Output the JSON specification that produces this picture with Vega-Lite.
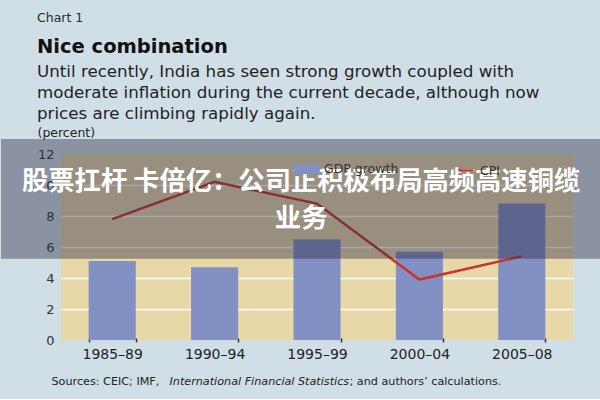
{
  "$schema": "https://vega.github.io/schema/vega-lite/v6.json",
  "background": "#d0dfe6",
  "padding": {"left": 0, "top": 12, "right": 0, "bottom": 12},
  "title": {"text": "Chart 1", "anchor": "start", "dx": 36, "font": "DejaVu Sans", "fontSize": 12.5, "fontWeight": "normal", "color": "#2a2a2a", "offset": 12},
  "config": {"font": "DejaVu Sans", "view": {"stroke": null}},
  "datasets": {
    "india": [
      {"period": "1985–89", "gdp": 5.1, "cpi": 7.8},
      {"period": "1990–94", "gdp": 4.7, "cpi": 10.2},
      {"period": "1995–99", "gdp": 6.5, "cpi": 8.8},
      {"period": "2000–04", "gdp": 5.7, "cpi": 3.9},
      {"period": "2005–08", "gdp": 8.8, "cpi": 5.4}
    ],
    "overlay": [{"x0": -0.1172, "x1": 1.0547, "y0": 5.25, "y1": 12.97}],
    "overlayText": [
      {"t": "股票扛杆 卡倍亿：公司正积极布局高频高速铜缆", "x": 0.469, "y": 10.18},
      {"t": "业务", "x": 0.469, "y": 7.78}
    ]
  },
  "vconcat": [
    {
      "title": {
        "text": "Nice combination",
        "subtitle": [
          "Until recently, India has seen strong growth coupled with",
          "moderate inflation during the current decade, although now",
          "prices are climbing rapidly again."
        ],
        "anchor": "start",
        "dx": 36,
        "font": "DejaVu Sans",
        "fontSize": 19.5,
        "fontWeight": "bold",
        "color": "#111111",
        "subtitleFont": "DejaVu Sans",
        "subtitleFontSize": 16.7,
        "subtitleColor": "#222222",
        "subtitleLineHeight": 21,
        "subtitlePadding": 7,
        "offset": 2
      },
      "width": 512,
      "height": 186,
      "view": {"fill": "#e8d8a8", "stroke": null},
      "resolve": {
        "scale": {"x": "independent", "fill": "independent", "stroke": "independent"},
        "axis": {"x": "independent", "y": "independent"}
      },
      "layer": [
        {
          "data": {"name": "india"},
          "mark": {"type": "bar"},
          "encoding": {
            "x": {
              "field": "period", "type": "nominal", "sort": null,
              "scale": {"paddingInner": 0.54, "paddingOuter": 0.27},
              "axis": {
                "orient": "bottom", "offset": -2,
                "title": "Sources: CEIC; IMF,",
                "titleX": -10, "titleY": 46, "titleAlign": "left", "titleAnchor": "start", "titleBaseline": "alphabetic",
                "titleFont": "DejaVu Sans", "titleFontSize": 11.2, "titleFontWeight": "normal", "titleColor": "#222222",
                "labelAngle": 0, "labelFont": "DejaVu Sans", "labelFontSize": 14, "labelColor": "#222222", "labelPadding": 5,
                "domain": false, "ticks": true, "tickBand": "extent", "tickSize": 4, "tickColor": "#333333", "tickWidth": 1.5,
                "grid": false
              }
            },
            "y": {
              "field": "gdp", "type": "quantitative",
              "scale": {"domain": [0, 12], "nice": false},
              "axis": {
                "orient": "left",
                "values": [0, 2, 4, 6, 8, 10, 12],
                "title": "(percent)", "titleAngle": 0, "titleX": -24, "titleY": -18, "titleAlign": "left", "titleAnchor": "start", "titleBaseline": "alphabetic",
                "titleFont": "DejaVu Sans", "titleFontSize": 12.5, "titleFontWeight": "normal", "titleColor": "#222222",
                "labelFont": "DejaVu Sans", "labelFontSize": 13, "labelColor": "#333333", "labelPadding": 7,
                "domain": false, "ticks": false,
                "grid": true, "gridColor": "#ffffff", "gridWidth": 1.5,
                "gridOpacity": {"condition": {"test": "datum.value === 0 || datum.value === 12", "value": 0}, "value": 1}
              }
            },
            "fill": {
              "datum": "GDP growth", "type": "nominal",
              "scale": {"range": ["#8290c4"]},
              "legend": {
                "orient": "none", "legendX": 232, "legendY": 1.7, "title": null, "direction": "horizontal",
                "symbolType": "M-1,-0.375H1V0.375H-1Z", "symbolSize": 708, "symbolStrokeWidth": 0,
                "labelFont": "DejaVu Sans", "labelFontSize": 12.5, "labelColor": "#333333", "labelOffset": 4,
                "zindex": -1
              }
            }
          }
        },
        {
          "data": {"name": "india"},
          "mark": {"type": "line", "strokeWidth": 2.5},
          "encoding": {
            "x": {
              "field": "period", "type": "nominal", "sort": null,
              "scale": {"type": "point", "padding": 0.5},
              "axis": {
                "orient": "bottom",
                "title": "International Financial Statistics",
                "titleX": 108, "titleY": 44, "titleAlign": "left", "titleAnchor": "start", "titleBaseline": "alphabetic",
                "titleFont": "DejaVu Sans", "titleFontSize": 11.2, "titleFontWeight": "normal", "titleFontStyle": "italic", "titleColor": "#222222",
                "labels": false, "ticks": false, "domain": false, "grid": false
              }
            },
            "y": {"field": "cpi", "type": "quantitative", "scale": {"domain": [0, 12], "nice": false}, "axis": null},
            "stroke": {
              "datum": "CPI", "type": "nominal",
              "scale": {"range": ["#c8352b"]},
              "legend": {
                "orient": "none", "legendX": 396, "legendY": 7.5, "title": null, "direction": "horizontal",
                "symbolType": "stroke", "symbolSize": 225, "symbolStrokeWidth": 2.5,
                "labelFont": "DejaVu Sans", "labelFontSize": 12.5, "labelColor": "#333333", "labelOffset": 5,
                "zindex": -1
              }
            }
          }
        },
        {
          "data": {"name": "overlay"},
          "mark": {"type": "rect", "color": "#2c2c44", "opacity": 0.42, "clip": false},
          "encoding": {
            "x": {
              "field": "x0", "type": "quantitative",
              "scale": {"domain": [0, 1], "nice": false, "zero": false},
              "axis": {
                "orient": "bottom",
                "title": "; and authors’ calculations.",
                "titleX": 288, "titleY": 44, "titleAlign": "left", "titleAnchor": "start", "titleBaseline": "alphabetic",
                "titleFont": "DejaVu Sans", "titleFontSize": 11.2, "titleFontWeight": "normal", "titleColor": "#222222",
                "labels": false, "ticks": false, "domain": false, "grid": false
              }
            },
            "x2": {"field": "x1"},
            "y": {"field": "y0", "type": "quantitative", "scale": {"domain": [0, 12], "nice": false}, "axis": null},
            "y2": {"field": "y1"}
          }
        },
        {
          "data": {"name": "overlayText"},
          "mark": {"type": "text", "font": "Noto Sans CJK SC", "fontSize": 26.3, "fontWeight": "bold", "color": "#ffffff", "align": "center", "baseline": "middle", "clip": false},
          "encoding": {
            "x": {"field": "x", "type": "quantitative", "scale": {"domain": [0, 1], "nice": false, "zero": false}, "axis": null},
            "y": {"field": "y", "type": "quantitative", "scale": {"domain": [0, 12], "nice": false}, "axis": null},
            "text": {"field": "t"}
          }
        }
      ]
    }
  ]
}
